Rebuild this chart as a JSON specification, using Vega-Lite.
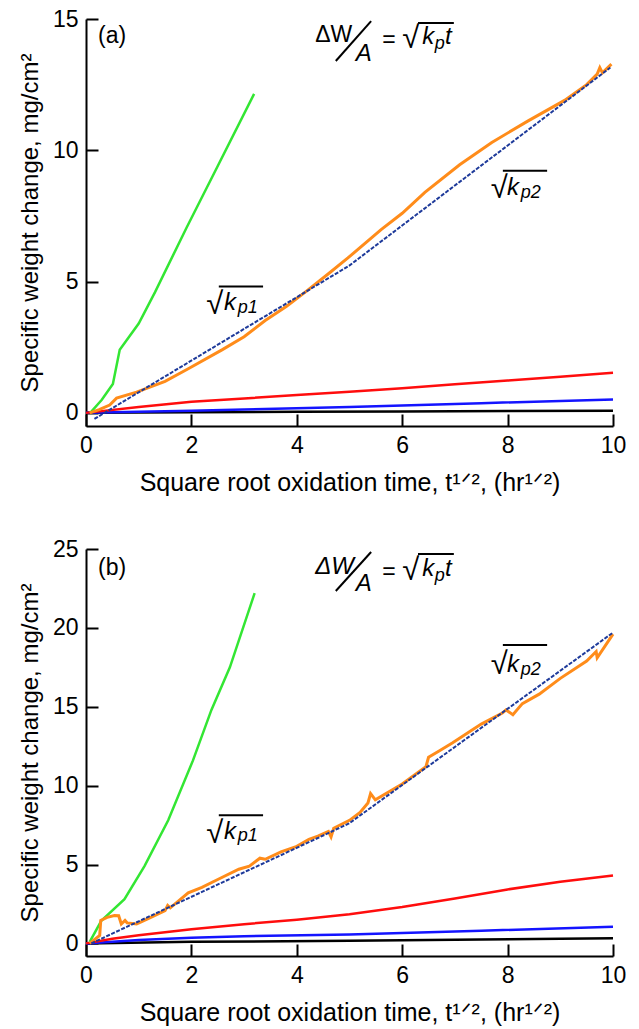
{
  "$schema": "https://vega.github.io/schema/vega-lite/v6.json",
  "background": "white",
  "padding": {"left": 18, "top": 8, "right": 5, "bottom": 2},
  "spacing": 43,
  "config": {
    "view": {"stroke": null},
    "font": "Liberation Sans",
    "axis": {
      "grid": false,
      "domainColor": "black",
      "domainWidth": 2,
      "tickColor": "black",
      "tickWidth": 2,
      "tickSize": -12,
      "labelPadding": 20,
      "labelFont": "Liberation Sans",
      "labelFontSize": 23,
      "labelColor": "black",
      "labelFlush": false,
      "labelOverlap": false,
      "titleFont": "Liberation Sans",
      "titleFontSize": 24,
      "titleFontWeight": "normal",
      "titleColor": "black"
    }
  },
  "datasets": {
    "curves": [
      {"p": "a", "s": "black", "x": 0, "y": 0},
      {"p": "a", "s": "black", "x": 2, "y": 0.02},
      {"p": "a", "s": "black", "x": 4, "y": 0.04},
      {"p": "a", "s": "black", "x": 6, "y": 0.05},
      {"p": "a", "s": "black", "x": 8, "y": 0.07},
      {"p": "a", "s": "black", "x": 10, "y": 0.08},
      {"p": "a", "s": "blue", "x": 0, "y": 0},
      {"p": "a", "s": "blue", "x": 1, "y": 0.04},
      {"p": "a", "s": "blue", "x": 2, "y": 0.08},
      {"p": "a", "s": "blue", "x": 3, "y": 0.13},
      {"p": "a", "s": "blue", "x": 5, "y": 0.22},
      {"p": "a", "s": "blue", "x": 7.5, "y": 0.37},
      {"p": "a", "s": "blue", "x": 10, "y": 0.51},
      {"p": "a", "s": "red", "x": 0, "y": 0},
      {"p": "a", "s": "red", "x": 1, "y": 0.22},
      {"p": "a", "s": "red", "x": 2, "y": 0.42},
      {"p": "a", "s": "red", "x": 3, "y": 0.55},
      {"p": "a", "s": "red", "x": 4, "y": 0.68},
      {"p": "a", "s": "red", "x": 5, "y": 0.8},
      {"p": "a", "s": "red", "x": 6, "y": 0.94},
      {"p": "a", "s": "red", "x": 7, "y": 1.09},
      {"p": "a", "s": "red", "x": 8, "y": 1.23},
      {"p": "a", "s": "red", "x": 9, "y": 1.38},
      {"p": "a", "s": "red", "x": 10, "y": 1.53},
      {"p": "a", "s": "green", "x": 0.08, "y": 0},
      {"p": "a", "s": "green", "x": 0.3, "y": 0.5},
      {"p": "a", "s": "green", "x": 0.51, "y": 1.1},
      {"p": "a", "s": "green", "x": 0.64, "y": 2.4},
      {"p": "a", "s": "green", "x": 1.0, "y": 3.4},
      {"p": "a", "s": "green", "x": 1.31, "y": 4.6},
      {"p": "a", "s": "green", "x": 1.91, "y": 7.06},
      {"p": "a", "s": "green", "x": 2.5, "y": 9.4},
      {"p": "a", "s": "green", "x": 3.19, "y": 12.15},
      {"p": "a", "s": "orange", "x": 0.07, "y": 0},
      {"p": "a", "s": "orange", "x": 0.25, "y": 0.12},
      {"p": "a", "s": "orange", "x": 0.45, "y": 0.3},
      {"p": "a", "s": "orange", "x": 0.58, "y": 0.56},
      {"p": "a", "s": "orange", "x": 0.96, "y": 0.79},
      {"p": "a", "s": "orange", "x": 1.5, "y": 1.2},
      {"p": "a", "s": "orange", "x": 1.94, "y": 1.68},
      {"p": "a", "s": "orange", "x": 2.58, "y": 2.4},
      {"p": "a", "s": "orange", "x": 3.0, "y": 2.9},
      {"p": "a", "s": "orange", "x": 3.4, "y": 3.52},
      {"p": "a", "s": "orange", "x": 3.8, "y": 4.05},
      {"p": "a", "s": "orange", "x": 4.16, "y": 4.6},
      {"p": "a", "s": "orange", "x": 4.6, "y": 5.3},
      {"p": "a", "s": "orange", "x": 4.97, "y": 5.9},
      {"p": "a", "s": "orange", "x": 5.6, "y": 6.98},
      {"p": "a", "s": "orange", "x": 6.0, "y": 7.6},
      {"p": "a", "s": "orange", "x": 6.43, "y": 8.4},
      {"p": "a", "s": "orange", "x": 7.09, "y": 9.45},
      {"p": "a", "s": "orange", "x": 7.7, "y": 10.3},
      {"p": "a", "s": "orange", "x": 8.39, "y": 11.12},
      {"p": "a", "s": "orange", "x": 9.08, "y": 11.9},
      {"p": "a", "s": "orange", "x": 9.5, "y": 12.5},
      {"p": "a", "s": "orange", "x": 9.7, "y": 12.9},
      {"p": "a", "s": "orange", "x": 9.75, "y": 13.15},
      {"p": "a", "s": "orange", "x": 9.8, "y": 12.95},
      {"p": "a", "s": "orange", "x": 9.97, "y": 13.28},
      {"p": "a", "s": "fit", "x": 0.16, "y": -0.23},
      {"p": "a", "s": "fit", "x": 4.99, "y": 5.6},
      {"p": "a", "s": "fit", "x": 9.95, "y": 13.15},
      {"p": "b", "s": "black", "x": 0, "y": 0},
      {"p": "b", "s": "black", "x": 2, "y": 0.1},
      {"p": "b", "s": "black", "x": 5, "y": 0.16},
      {"p": "b", "s": "black", "x": 7.5, "y": 0.24},
      {"p": "b", "s": "black", "x": 10, "y": 0.32},
      {"p": "b", "s": "blue", "x": 0, "y": 0},
      {"p": "b", "s": "blue", "x": 1, "y": 0.22},
      {"p": "b", "s": "blue", "x": 2, "y": 0.36},
      {"p": "b", "s": "blue", "x": 3, "y": 0.45},
      {"p": "b", "s": "blue", "x": 5, "y": 0.57},
      {"p": "b", "s": "blue", "x": 7.5, "y": 0.8},
      {"p": "b", "s": "blue", "x": 10, "y": 1.06},
      {"p": "b", "s": "red", "x": 0, "y": 0},
      {"p": "b", "s": "red", "x": 0.5, "y": 0.3},
      {"p": "b", "s": "red", "x": 1, "y": 0.52},
      {"p": "b", "s": "red", "x": 2, "y": 0.9},
      {"p": "b", "s": "red", "x": 3, "y": 1.22},
      {"p": "b", "s": "red", "x": 4, "y": 1.5},
      {"p": "b", "s": "red", "x": 5, "y": 1.84},
      {"p": "b", "s": "red", "x": 6, "y": 2.3},
      {"p": "b", "s": "red", "x": 7, "y": 2.85},
      {"p": "b", "s": "red", "x": 8, "y": 3.42},
      {"p": "b", "s": "red", "x": 9, "y": 3.9},
      {"p": "b", "s": "red", "x": 10, "y": 4.3},
      {"p": "b", "s": "green", "x": 0.07, "y": 0.1},
      {"p": "b", "s": "green", "x": 0.29, "y": 1.43},
      {"p": "b", "s": "green", "x": 0.73, "y": 2.8},
      {"p": "b", "s": "green", "x": 1.11, "y": 4.9},
      {"p": "b", "s": "green", "x": 1.56, "y": 7.8},
      {"p": "b", "s": "green", "x": 2.03, "y": 11.6},
      {"p": "b", "s": "green", "x": 2.38, "y": 14.8},
      {"p": "b", "s": "green", "x": 2.73, "y": 17.5},
      {"p": "b", "s": "green", "x": 3.2, "y": 22.2},
      {"p": "b", "s": "orange", "x": 0.07, "y": 0},
      {"p": "b", "s": "orange", "x": 0.26, "y": 0.5},
      {"p": "b", "s": "orange", "x": 0.28, "y": 1.45},
      {"p": "b", "s": "orange", "x": 0.4, "y": 1.65},
      {"p": "b", "s": "orange", "x": 0.54, "y": 1.77},
      {"p": "b", "s": "orange", "x": 0.62, "y": 1.75},
      {"p": "b", "s": "orange", "x": 0.67, "y": 1.23},
      {"p": "b", "s": "orange", "x": 0.74, "y": 1.45},
      {"p": "b", "s": "orange", "x": 0.78, "y": 1.3},
      {"p": "b", "s": "orange", "x": 0.96, "y": 1.23},
      {"p": "b", "s": "orange", "x": 1.2, "y": 1.6},
      {"p": "b", "s": "orange", "x": 1.5, "y": 2.07},
      {"p": "b", "s": "orange", "x": 1.55, "y": 2.4},
      {"p": "b", "s": "orange", "x": 1.6, "y": 2.25},
      {"p": "b", "s": "orange", "x": 1.94, "y": 3.2},
      {"p": "b", "s": "orange", "x": 2.2, "y": 3.55},
      {"p": "b", "s": "orange", "x": 2.5, "y": 4.05},
      {"p": "b", "s": "orange", "x": 2.9, "y": 4.7},
      {"p": "b", "s": "orange", "x": 3.1, "y": 4.9},
      {"p": "b", "s": "orange", "x": 3.3, "y": 5.4},
      {"p": "b", "s": "orange", "x": 3.4, "y": 5.33},
      {"p": "b", "s": "orange", "x": 3.7, "y": 5.8},
      {"p": "b", "s": "orange", "x": 4.0, "y": 6.15},
      {"p": "b", "s": "orange", "x": 4.23, "y": 6.6},
      {"p": "b", "s": "orange", "x": 4.4, "y": 6.8},
      {"p": "b", "s": "orange", "x": 4.6, "y": 7.1},
      {"p": "b", "s": "orange", "x": 4.65, "y": 6.75},
      {"p": "b", "s": "orange", "x": 4.7, "y": 7.3},
      {"p": "b", "s": "orange", "x": 5.0, "y": 7.8},
      {"p": "b", "s": "orange", "x": 5.2, "y": 8.3},
      {"p": "b", "s": "orange", "x": 5.35, "y": 8.9},
      {"p": "b", "s": "orange", "x": 5.4, "y": 9.5},
      {"p": "b", "s": "orange", "x": 5.49, "y": 9.1},
      {"p": "b", "s": "orange", "x": 6.0, "y": 10.1},
      {"p": "b", "s": "orange", "x": 6.45, "y": 11.2},
      {"p": "b", "s": "orange", "x": 6.5, "y": 11.8},
      {"p": "b", "s": "orange", "x": 6.7, "y": 12.2},
      {"p": "b", "s": "orange", "x": 6.95, "y": 12.7},
      {"p": "b", "s": "orange", "x": 7.5, "y": 13.9},
      {"p": "b", "s": "orange", "x": 7.9, "y": 14.6},
      {"p": "b", "s": "orange", "x": 7.97, "y": 14.8},
      {"p": "b", "s": "orange", "x": 8.1, "y": 14.5},
      {"p": "b", "s": "orange", "x": 8.28, "y": 15.2},
      {"p": "b", "s": "orange", "x": 8.6, "y": 15.8},
      {"p": "b", "s": "orange", "x": 9.0, "y": 16.8},
      {"p": "b", "s": "orange", "x": 9.5, "y": 17.9},
      {"p": "b", "s": "orange", "x": 9.68, "y": 18.5},
      {"p": "b", "s": "orange", "x": 9.7, "y": 18.1},
      {"p": "b", "s": "orange", "x": 10.0, "y": 19.6},
      {"p": "b", "s": "fit", "x": 0.1, "y": 0},
      {"p": "b", "s": "fit", "x": 4.99, "y": 7.6},
      {"p": "b", "s": "fit", "x": 10.0, "y": 19.7}
    ],
    "notes": [
      {"p": "a", "k": "up", "t": "(a)", "x": 0.23, "y": 14.08},
      {"p": "a", "k": "up", "t": "ΔW", "x": 4.35, "y": 14.12},
      {"p": "a", "k": "it", "t": "A", "x": 5.12, "y": 13.4},
      {"p": "a", "k": "up", "t": "=", "x": 5.62, "y": 13.93},
      {"p": "a", "k": "rad", "t": "√", "x": 6.0, "y": 13.89},
      {"p": "a", "k": "it", "t": "k", "x": 6.38, "y": 14.05},
      {"p": "a", "k": "sub", "t": "p", "x": 6.62, "y": 13.85},
      {"p": "a", "k": "it", "t": "t", "x": 6.81, "y": 14.05},
      {"p": "a", "k": "rad", "t": "√", "x": 2.28, "y": 3.78},
      {"p": "a", "k": "it", "t": "k", "x": 2.62, "y": 3.93},
      {"p": "a", "k": "sub", "t": "p1", "x": 2.88, "y": 3.82},
      {"p": "a", "k": "rad", "t": "√", "x": 7.68, "y": 8.17},
      {"p": "a", "k": "it", "t": "k", "x": 7.99, "y": 8.28},
      {"p": "a", "k": "sub", "t": "p2", "x": 8.25, "y": 8.17},
      {"p": "b", "k": "up", "t": "(b)", "x": 0.23, "y": 23.35},
      {"p": "b", "k": "it", "t": "ΔW", "x": 4.35, "y": 23.41},
      {"p": "b", "k": "it", "t": "A", "x": 5.12, "y": 22.34},
      {"p": "b", "k": "up", "t": "=", "x": 5.62, "y": 23.1},
      {"p": "b", "k": "rad", "t": "√", "x": 6.0, "y": 23.03},
      {"p": "b", "k": "it", "t": "k", "x": 6.38, "y": 23.29},
      {"p": "b", "k": "sub", "t": "p", "x": 6.62, "y": 22.97},
      {"p": "b", "k": "it", "t": "t", "x": 6.81, "y": 23.29},
      {"p": "b", "k": "rad", "t": "√", "x": 2.28, "y": 6.36},
      {"p": "b", "k": "it", "t": "k", "x": 2.62, "y": 6.61},
      {"p": "b", "k": "sub", "t": "p1", "x": 2.88, "y": 6.48},
      {"p": "b", "k": "rad", "t": "√", "x": 7.68, "y": 17.07},
      {"p": "b", "k": "it", "t": "k", "x": 7.99, "y": 17.2},
      {"p": "b", "k": "sub", "t": "p2", "x": 8.25, "y": 17.01}
    ],
    "strokes": [
      {"p": "a", "x": 4.74, "y": 13.4, "x2": 5.41, "y2": 14.92},
      {"p": "a", "x": 6.3, "y": 14.85, "x2": 6.98, "y2": 14.85},
      {"p": "a", "x": 2.52, "y": 4.81, "x2": 3.36, "y2": 4.81},
      {"p": "a", "x": 7.91, "y": 9.22, "x2": 8.75, "y2": 9.22},
      {"p": "b", "x": 4.74, "y": 22.34, "x2": 5.41, "y2": 24.81},
      {"p": "b", "x": 6.3, "y": 24.68, "x2": 6.98, "y2": 24.68},
      {"p": "b", "x": 2.52, "y": 8.13, "x2": 3.36, "y2": 8.13},
      {"p": "b", "x": 7.91, "y": 18.91, "x2": 8.75, "y2": 18.91}
    ]
  },
  "vconcat": [
    {
      "width": 527,
      "height": 407,
      "encoding": {
        "x": {"field": "x", "type": "quantitative",
              "scale": {"domain": [0, 10], "nice": false, "zero": false},
              "axis": {"values": [0, 2, 4, 6, 8, 10], "format": "d", "title": "Square root oxidation time, t¹ᐟ², (hr¹ᐟ²)", "titleFontSize": 25, "titlePadding": 13}},
        "y": {"field": "y", "type": "quantitative",
              "scale": {"domain": [-0.5, 15], "nice": false, "zero": false},
              "axis": {"values": [0, 5, 10, 15], "format": "d", "title": "Specific weight change, mg/cm²", "titlePadding": 10}}
      },
      "layer": [
        {"data": {"name": "curves"}, "transform": [{"filter": "datum.p === 'a' && datum.s !== 'orange' && datum.s !== 'fit'"}],
         "mark": {"type": "line", "strokeWidth": 2.5},
         "encoding": {"color": {"field": "s", "type": "nominal", "legend": null,
            "scale": {"domain": ["black", "blue", "red", "green"], "range": ["#000000", "#1414ff", "#ff0d0d", "#33e633"]}}}},
        {"data": {"name": "curves"}, "transform": [{"filter": "datum.p === 'a' && datum.s === 'orange'"}],
         "mark": {"type": "line", "strokeWidth": 3, "color": "#ff8c1a"}, "encoding": {}},
        {"data": {"name": "curves"}, "transform": [{"filter": "datum.p === 'a' && datum.s === 'fit'"}],
         "mark": {"type": "line", "strokeWidth": 2, "color": "#1e3a9a", "strokeDash": [4, 1.5]}, "encoding": {}},
        {"data": {"name": "strokes"}, "transform": [{"filter": "datum.p === 'a'"}],
         "mark": {"type": "rule", "strokeWidth": 2, "color": "black"},
         "encoding": {"x2": {"field": "x2"}, "y2": {"field": "y2"}}},
        {"data": {"name": "notes"}, "transform": [{"filter": "datum.p === 'a' && datum.k === 'up'"}],
         "mark": {"type": "text", "align": "left", "baseline": "alphabetic", "fontSize": 23, "color": "black"},
         "encoding": {"text": {"field": "t"}}},
        {"data": {"name": "notes"}, "transform": [{"filter": "datum.p === 'a' && datum.k === 'rad'"}],
         "mark": {"type": "text", "align": "left", "baseline": "alphabetic", "fontSize": 31, "color": "black"},
         "encoding": {"text": {"field": "t"}}},
        {"data": {"name": "notes"}, "transform": [{"filter": "datum.p === 'a' && datum.k === 'it'"}],
         "mark": {"type": "text", "align": "left", "baseline": "alphabetic", "fontSize": 24, "fontStyle": "italic", "color": "black"},
         "encoding": {"text": {"field": "t"}}},
        {"data": {"name": "notes"}, "transform": [{"filter": "datum.p === 'a' && datum.k === 'sub'"}],
         "mark": {"type": "text", "align": "left", "baseline": "alphabetic", "fontSize": 18, "fontStyle": "italic", "color": "black"},
         "encoding": {"text": {"field": "t"}}}
      ]
    },
    {
      "width": 527,
      "height": 407,
      "encoding": {
        "x": {"field": "x", "type": "quantitative",
              "scale": {"domain": [0, 10], "nice": false, "zero": false},
              "axis": {"values": [0, 2, 4, 6, 8, 10], "format": "d", "title": "Square root oxidation time, t¹ᐟ², (hr¹ᐟ²)", "titleFontSize": 25, "titlePadding": 13}},
        "y": {"field": "y", "type": "quantitative",
              "scale": {"domain": [-0.8, 25], "nice": false, "zero": false},
              "axis": {"values": [0, 5, 10, 15, 20, 25], "format": "d", "title": "Specific weight change, mg/cm²", "titlePadding": 10}}
      },
      "layer": [
        {"data": {"name": "curves"}, "transform": [{"filter": "datum.p === 'b' && datum.s !== 'orange' && datum.s !== 'fit'"}],
         "mark": {"type": "line", "strokeWidth": 2.5},
         "encoding": {"color": {"field": "s", "type": "nominal", "legend": null,
            "scale": {"domain": ["black", "blue", "red", "green"], "range": ["#000000", "#1414ff", "#ff0d0d", "#33e633"]}}}},
        {"data": {"name": "curves"}, "transform": [{"filter": "datum.p === 'b' && datum.s === 'orange'"}],
         "mark": {"type": "line", "strokeWidth": 3, "color": "#ff8c1a"}, "encoding": {}},
        {"data": {"name": "curves"}, "transform": [{"filter": "datum.p === 'b' && datum.s === 'fit'"}],
         "mark": {"type": "line", "strokeWidth": 2, "color": "#1e3a9a", "strokeDash": [4, 1.5]}, "encoding": {}},
        {"data": {"name": "strokes"}, "transform": [{"filter": "datum.p === 'b'"}],
         "mark": {"type": "rule", "strokeWidth": 2, "color": "black"},
         "encoding": {"x2": {"field": "x2"}, "y2": {"field": "y2"}}},
        {"data": {"name": "notes"}, "transform": [{"filter": "datum.p === 'b' && datum.k === 'up'"}],
         "mark": {"type": "text", "align": "left", "baseline": "alphabetic", "fontSize": 23, "color": "black"},
         "encoding": {"text": {"field": "t"}}},
        {"data": {"name": "notes"}, "transform": [{"filter": "datum.p === 'b' && datum.k === 'rad'"}],
         "mark": {"type": "text", "align": "left", "baseline": "alphabetic", "fontSize": 31, "color": "black"},
         "encoding": {"text": {"field": "t"}}},
        {"data": {"name": "notes"}, "transform": [{"filter": "datum.p === 'b' && datum.k === 'it'"}],
         "mark": {"type": "text", "align": "left", "baseline": "alphabetic", "fontSize": 24, "fontStyle": "italic", "color": "black"},
         "encoding": {"text": {"field": "t"}}},
        {"data": {"name": "notes"}, "transform": [{"filter": "datum.p === 'b' && datum.k === 'sub'"}],
         "mark": {"type": "text", "align": "left", "baseline": "alphabetic", "fontSize": 18, "fontStyle": "italic", "color": "black"},
         "encoding": {"text": {"field": "t"}}}
      ]
    }
  ]
}
